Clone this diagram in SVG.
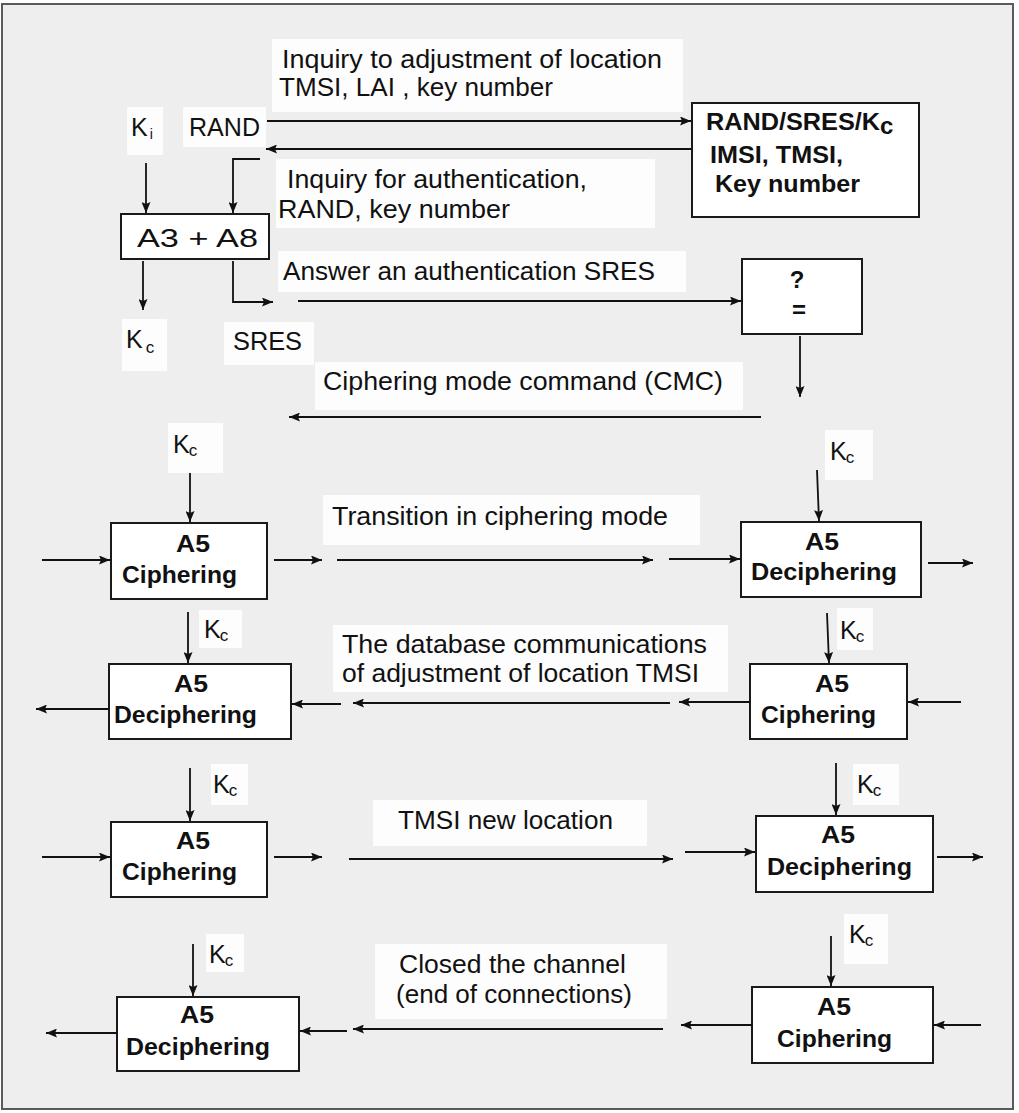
<svg xmlns="http://www.w3.org/2000/svg" width="1019" height="1113" viewBox="0 0 1019 1113">
  <style>
    .frame { fill: #eeeeee; stroke: #5a5a5a; stroke-width: 2; }
    .lbl { fill: #fdfdfd; }
    .box { fill: #ffffff; stroke: #1a1a1a; stroke-width: 2; }
    .t { font-family: "Liberation Sans", Arial, sans-serif; font-size: 25px; fill: #111; }
    .k { font-family: "Liberation Sans", Arial, sans-serif; font-size: 25px; fill: #111; }
    .b { font-family: "Liberation Sans", Arial, sans-serif; font-size: 24px; font-weight: bold; fill: #111; }
    .mid { text-anchor: middle; }
    .ln { stroke: #111; stroke-width: 1.8; fill: none; marker-end: url(#ah); }
  </style>
  <defs>
    <marker id="ah" viewBox="0 0 11 9" markerWidth="11" markerHeight="9" refX="11" refY="4.5" orient="auto" markerUnits="userSpaceOnUse">
      <path d="M0,0 L11,4.5 L0,9 L2,4.5 z" fill="#111"/>
    </marker>
  </defs>

  <!-- outer frame -->
  <rect class="frame" x="2" y="4" width="1011" height="1105"/>

  <!-- message labels -->
  <g id="msg-location-request">
    <rect class="lbl" x="272" y="39" width="411" height="73"/>
    <text class="t" x="282" y="68" textLength="380" lengthAdjust="spacingAndGlyphs">Inquiry to adjustment of location</text>
    <text class="t" x="279" y="96" textLength="274" lengthAdjust="spacingAndGlyphs">TMSI, LAI , key number</text>
  </g>
  <g id="msg-auth-request">
    <rect class="lbl" x="276" y="159" width="379" height="69"/>
    <text class="t" x="287" y="188" textLength="300" lengthAdjust="spacingAndGlyphs">Inquiry for authentication,</text>
    <text class="t" x="278" y="218" textLength="232" lengthAdjust="spacingAndGlyphs">RAND, key number</text>
  </g>
  <g id="msg-auth-answer">
    <rect class="lbl" x="278" y="251" width="408" height="41"/>
    <text class="t" x="283" y="280" textLength="372" lengthAdjust="spacingAndGlyphs">Answer an authentication SRES</text>
  </g>
  <g id="msg-cmc">
    <rect class="lbl" x="315" y="362" width="428" height="48"/>
    <text class="t" x="323" y="390" textLength="400" lengthAdjust="spacingAndGlyphs">Ciphering mode command (CMC)</text>
  </g>
  <g id="msg-transition">
    <rect class="lbl" x="323" y="495" width="377" height="50"/>
    <text class="t" x="332" y="525" textLength="336" lengthAdjust="spacingAndGlyphs">Transition in ciphering mode</text>
  </g>
  <g id="msg-database">
    <rect class="lbl" x="333" y="625" width="395" height="67"/>
    <text class="t" x="342" y="653" textLength="365" lengthAdjust="spacingAndGlyphs">The database communications</text>
    <text class="t" x="342" y="682" textLength="357" lengthAdjust="spacingAndGlyphs">of adjustment of location TMSI</text>
  </g>
  <g id="msg-new-location">
    <rect class="lbl" x="373" y="800" width="274" height="46"/>
    <text class="t" x="398" y="829" textLength="215" lengthAdjust="spacingAndGlyphs">TMSI new location</text>
  </g>
  <g id="msg-close">
    <rect class="lbl" x="375" y="944" width="292" height="75"/>
    <text class="t" x="399" y="973" textLength="227" lengthAdjust="spacingAndGlyphs">Closed the channel</text>
    <text class="t" x="396" y="1003" textLength="236" lengthAdjust="spacingAndGlyphs">(end of connections)</text>
  </g>

  <!-- key and value labels -->
  <g id="lbl-ki">
    <rect class="lbl" x="127" y="107" width="36" height="48"/>
    <text class="k" x="131" y="136">K<tspan dx="2" dy="3" font-size="14">i</tspan></text>
  </g>
  <g id="lbl-rand">
    <rect class="lbl" x="183" y="107" width="83" height="40"/>
    <text class="k" x="189" y="136" textLength="71" lengthAdjust="spacingAndGlyphs">RAND</text>
  </g>
  <g id="lbl-kc-out">
    <rect class="lbl" x="122" y="319" width="45" height="52"/>
    <text class="k" x="126" y="348">K<tspan dx="3" dy="5" font-size="17">c</tspan></text>
  </g>
  <g id="lbl-sres">
    <rect class="lbl" x="224" y="322" width="90" height="43"/>
    <text class="k" x="233" y="350" textLength="69" lengthAdjust="spacingAndGlyphs">SRES</text>
  </g>
  <g id="lbl-kc-1l">
    <rect class="lbl" x="168" y="423" width="55" height="50"/>
    <text class="k" x="173" y="453">K<tspan dx="-1" dy="3" font-size="17">c</tspan></text>
  </g>
  <g id="lbl-kc-1r">
    <rect class="lbl" x="825" y="430" width="48" height="50"/>
    <text class="k" x="830" y="460">K<tspan dx="-1" dy="3" font-size="17">c</tspan></text>
  </g>
  <g id="lbl-kc-2l">
    <rect class="lbl" x="199" y="610" width="43" height="38"/>
    <text class="k" x="204" y="638">K<tspan dx="-1" dy="3" font-size="17">c</tspan></text>
  </g>
  <g id="lbl-kc-2r">
    <rect class="lbl" x="837" y="608" width="36" height="42"/>
    <text class="k" x="840" y="639">K<tspan dx="-1" dy="3" font-size="17">c</tspan></text>
  </g>
  <g id="lbl-kc-3l">
    <rect class="lbl" x="211" y="764" width="37" height="41"/>
    <text class="k" x="213" y="793">K<tspan dx="-1" dy="3" font-size="17">c</tspan></text>
  </g>
  <g id="lbl-kc-3r">
    <rect class="lbl" x="853" y="764" width="46" height="41"/>
    <text class="k" x="857" y="793">K<tspan dx="-1" dy="3" font-size="17">c</tspan></text>
  </g>
  <g id="lbl-kc-4l">
    <rect class="lbl" x="206" y="934" width="38" height="38"/>
    <text class="k" x="209" y="963">K<tspan dx="-1" dy="3" font-size="17">c</tspan></text>
  </g>
  <g id="lbl-kc-4r">
    <rect class="lbl" x="844" y="914" width="44" height="50"/>
    <text class="k" x="849" y="943">K<tspan dx="-1" dy="3" font-size="17">c</tspan></text>
  </g>

  <!-- processing blocks -->
  <g id="node-a3a8">
    <rect class="box" x="121" y="214" width="148" height="45"/>
    <text class="t" x="137" y="247" font-size="31" textLength="121" lengthAdjust="spacingAndGlyphs">A3 + A8</text>
  </g>
  <g id="node-database">
    <rect class="box" x="692" y="103" width="227" height="114"/>
    <text class="b" x="706" y="130" textLength="174" lengthAdjust="spacingAndGlyphs">RAND/SRES/K</text>
    <text class="b" x="880" y="134" font-size="16">c</text>
    <text class="b" x="710" y="163" textLength="133" lengthAdjust="spacingAndGlyphs">IMSI, TMSI,</text>
    <text class="b" x="715" y="192" textLength="145" lengthAdjust="spacingAndGlyphs">Key number</text>
  </g>
  <g id="node-compare">
    <rect class="box" x="742" y="259" width="120" height="75"/>
    <text class="b mid" x="797" y="288">?</text>
    <text class="b mid" x="799" y="318" font-size="26">=</text>
  </g>
  <g id="node-cipher-1l">
    <rect class="box" x="111" y="523" width="156" height="76"/>
    <text class="b mid" x="193" y="552" textLength="34" lengthAdjust="spacingAndGlyphs">A5</text>
    <text class="b" x="122" y="583" textLength="115" lengthAdjust="spacingAndGlyphs">Ciphering</text>
  </g>
  <g id="node-decipher-1r">
    <rect class="box" x="741" y="522" width="180" height="75"/>
    <text class="b mid" x="822" y="550" textLength="34" lengthAdjust="spacingAndGlyphs">A5</text>
    <text class="b" x="751" y="580" textLength="146" lengthAdjust="spacingAndGlyphs">Deciphering</text>
  </g>
  <g id="node-decipher-2l">
    <rect class="box" x="109" y="664" width="182" height="75"/>
    <text class="b mid" x="191" y="692" textLength="34" lengthAdjust="spacingAndGlyphs">A5</text>
    <text class="b" x="114" y="723" textLength="143" lengthAdjust="spacingAndGlyphs">Deciphering</text>
  </g>
  <g id="node-cipher-2r">
    <rect class="box" x="750" y="664" width="157" height="75"/>
    <text class="b mid" x="832" y="692" textLength="34" lengthAdjust="spacingAndGlyphs">A5</text>
    <text class="b" x="761" y="723" textLength="115" lengthAdjust="spacingAndGlyphs">Ciphering</text>
  </g>
  <g id="node-cipher-3l">
    <rect class="box" x="111" y="822" width="156" height="75"/>
    <text class="b mid" x="193" y="849" textLength="34" lengthAdjust="spacingAndGlyphs">A5</text>
    <text class="b" x="122" y="880" textLength="115" lengthAdjust="spacingAndGlyphs">Ciphering</text>
  </g>
  <g id="node-decipher-3r">
    <rect class="box" x="756" y="816" width="177" height="76"/>
    <text class="b mid" x="838" y="843" textLength="34" lengthAdjust="spacingAndGlyphs">A5</text>
    <text class="b" x="767" y="875" textLength="145" lengthAdjust="spacingAndGlyphs">Deciphering</text>
  </g>
  <g id="node-decipher-4l">
    <rect class="box" x="117" y="997" width="182" height="74"/>
    <text class="b mid" x="197" y="1023" textLength="34" lengthAdjust="spacingAndGlyphs">A5</text>
    <text class="b" x="126" y="1055" textLength="144" lengthAdjust="spacingAndGlyphs">Deciphering</text>
  </g>
  <g id="node-cipher-4r">
    <rect class="box" x="752" y="987" width="181" height="76"/>
    <text class="b mid" x="834" y="1015" textLength="34" lengthAdjust="spacingAndGlyphs">A5</text>
    <text class="b" x="777" y="1047" textLength="115" lengthAdjust="spacingAndGlyphs">Ciphering</text>
  </g>

  <!-- connectors -->
  <g id="connectors">
    <!-- authentication exchange -->
    <path class="ln" d="M267,121 H691"/>
    <path class="ln" d="M691,149 H266"/>
    <path class="ln" d="M260,159 H233 V213"/>
    <path class="ln" d="M146,163 V213"/>
    <path class="ln" d="M143,261 V310"/>
    <path class="ln" d="M233,261 V302 H273"/>
    <path class="ln" d="M298,301 H741"/>
    <path class="ln" d="M800,336 V397"/>
    <path class="ln" d="M761,417 H289"/>

    <!-- ciphered transition -->
    <path class="ln" d="M190,473 V522"/>
    <path class="ln" d="M42,560 H110"/>
    <path class="ln" d="M274,560 H322"/>
    <path class="ln" d="M337,560 H653"/>
    <path class="ln" d="M669,559 H740"/>
    <path class="ln" d="M817,470 L819,521"/>
    <path class="ln" d="M928,563 H973"/>

    <!-- location update reply -->
    <path class="ln" d="M188,612 V663"/>
    <path class="ln" d="M109,709 H36"/>
    <path class="ln" d="M341,704 H292"/>
    <path class="ln" d="M670,703 H353"/>
    <path class="ln" d="M750,702 H679"/>
    <path class="ln" d="M961,702 H908"/>
    <path class="ln" d="M827,613 L829,663"/>

    <!-- new TMSI -->
    <path class="ln" d="M190,768 V821"/>
    <path class="ln" d="M42,857 H110"/>
    <path class="ln" d="M274,857 H322"/>
    <path class="ln" d="M349,859 H673"/>
    <path class="ln" d="M685,852 H755"/>
    <path class="ln" d="M836,763 V815"/>
    <path class="ln" d="M937,857 H983"/>

    <!-- channel release -->
    <path class="ln" d="M193,944 V996"/>
    <path class="ln" d="M117,1033 H46"/>
    <path class="ln" d="M347,1031 H300"/>
    <path class="ln" d="M663,1029 H353"/>
    <path class="ln" d="M752,1025 H681"/>
    <path class="ln" d="M981,1025 H934"/>
    <path class="ln" d="M831,936 V986"/>
  </g>
</svg>
